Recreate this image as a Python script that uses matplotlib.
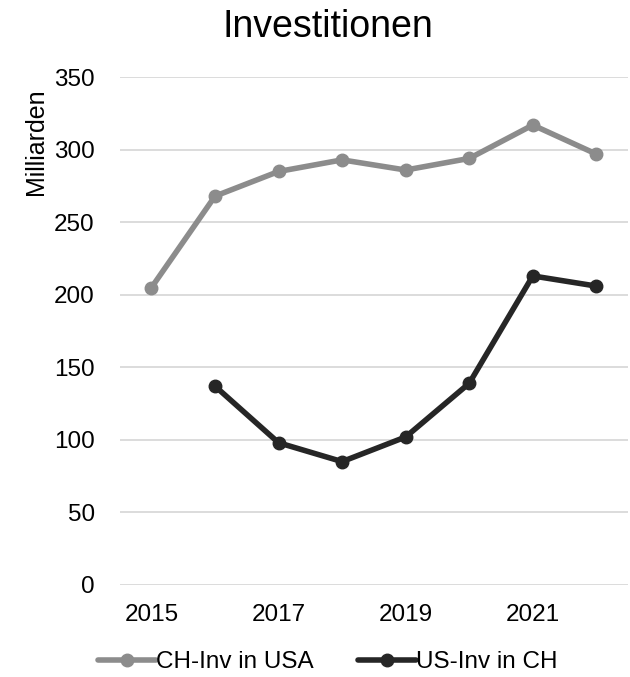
import numpy as np
from matplotlib import pyplot as plt

plt.rcParams['font.family'] = ['Liberation Sans', 'DejaVu Sans']

years = ['2015', '2016', '2017', '2018', '2019', '2020', '2021', '2022']
ch_inv_usa = [205, 268, 285, 293, 286, 294, 317, 297]
us_inv_ch = [np.nan, 137, 98, 85, 102, 139, 213, 206]
y_ticks = [0, 50, 100, 150, 200, 250, 300, 350]

fig = plt.figure(figsize=(6.3, 6.77), dpi=100)
ax = fig.add_axes([0.19, 0.136, 0.807, 0.750])

x = np.arange(len(years))
ax.plot(x, ch_inv_usa, color='#8c8c8c', lw=4, marker='o', ms=9,
        label='CH-Inv in USA', solid_capstyle='round')
ax.plot(x, us_inv_ch, color='#262626', lw=4, marker='o', ms=9,
        label='US-Inv in CH', solid_capstyle='round')

ax.set_xlim(-0.5, len(years) - 0.5)
ax.set_ylim(0, 350)
ax.set_yticks(y_ticks)
ax.set_xticks(x[::2])
ax.set_xticklabels(years[::2])
ax.tick_params(axis='both', length=0, labelsize=17.5, colors='black')
ax.tick_params(axis='y', pad=18)
ax.tick_params(axis='x', pad=14)
ax.grid(True, axis='y', color='#d9d9d9', lw=1.3)
ax.set_axisbelow(True)
for s in ax.spines.values():
    s.set_visible(False)

ax.set_ylabel('Milliarden', fontsize=18)
ax.yaxis.set_label_coords(-0.142, 0.872)
fig.text(0.52, 0.96, 'Investitionen', fontsize=27, ha='center', va='center')

fig.legend(loc='center', bbox_to_anchor=(0.52, 0.022), ncol=2, frameon=False,
           fontsize=17.5, handlelength=2.4, handletextpad=0.0, columnspacing=1.8)

fig.savefig('out.png', dpi=100)
